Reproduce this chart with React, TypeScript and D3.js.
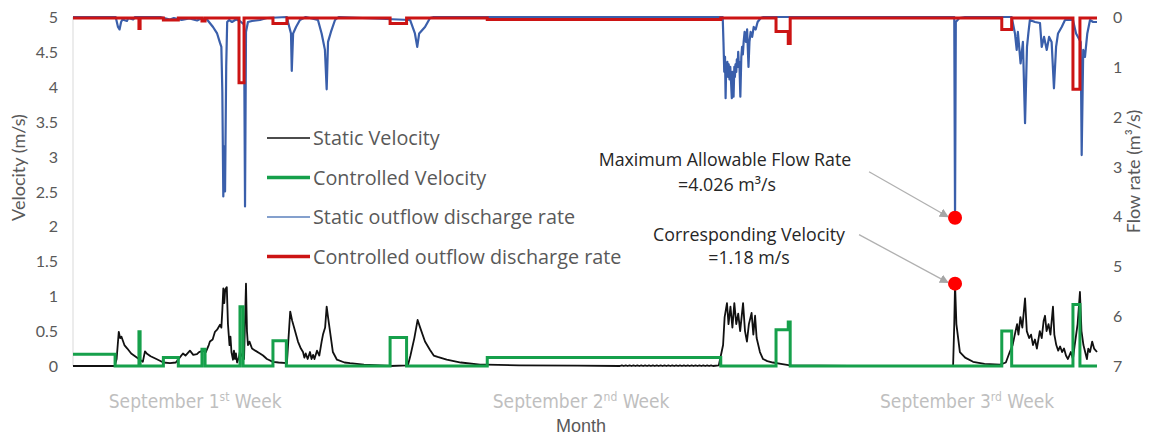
import React from "react";
import * as d3 from "d3";

// ---- data (time in hours from start, 22 days shown) ----
const staticVelocity: [number, number][] = [
  [0, 0], [21.5, 0], [22.5, 0.1], [23.6, 0.49], [24.3, 0.4], [25, 0.42], [26.5, 0.3], [28, 0.25], [30, 0.18], [32, 0.14],
  [34.5, 0.09], [36, 0.06], [37.1, 0.21], [38, 0.18], [40, 0.14], [43, 0.1], [46.6, 0.05], [50, 0.04], [53, 0.05],
  [55, 0.12], [56.7, 0.18], [58, 0.15], [60.3, 0.22], [62, 0.16], [63.9, 0.17], [65, 0.2], [67, 0.22], [68.5, 0.2],
  [70, 0.3], [70.6, 0.35], [72, 0.38], [73.2, 0.49], [74.3, 0.52], [75.8, 0.59], [76.5, 0.55], [77, 0.8], [77.5, 1.11],
  [78, 0.9], [78.5, 1.1], [79.3, 1.13], [79.9, 0.6], [80.3, 0.45], [80.7, 0.3], [81.2, 0.42], [81.7, 0.2], [82.5, 0.09],
  [83, 0.22], [83.5, 0.1], [84, 0.18], [84.6, 0.05], [85.5, 0.12], [86, 0.2], [87, 0.15], [88.2, 0.1], [89.2, 1.18],
  [89.7, 0.5], [90.2, 0.3], [91, 0.35], [92.3, 0.25], [94, 0.22], [96.4, 0.18], [98, 0.15], [100, 0.1], [103.1, 0.06],
  [106, 0.05], [110.3, 0.04], [112, 0.78], [113, 0.65], [114.5, 0.5], [116, 0.35], [117.5, 0.25], [118.6, 0.2],
  [119.3, 0.12], [120, 0.18], [121, 0.1], [122.2, 0.2], [123, 0.1], [123.8, 0.16], [124.5, 0.1], [125.8, 0.22],
  [127, 0.15], [128.2, 0.35], [128.9, 0.45], [130, 0.55], [130.8, 0.85], [131.5, 0.7], [132.5, 0.5], [134, 0.2],
  [136.1, 0.09], [140, 0.05], [142.8, 0.04], [150, 0.02], [163.5, 0], [172.7, 0.01], [174, 0.15], [176, 0.4],
  [177.7, 0.66], [179, 0.55], [181.5, 0.35], [184.1, 0.23], [186, 0.15], [188, 0.13], [192.7, 0.09], [200, 0.05],
  [209.9, 0.02], [213, 0.02], [230, 0.01], [260, 0.005], [282, 0.0], [283, 0.01], [284, 0.0], [285, 0.01], [286, 0.0],
  [287, 0.01], [288, 0.0], [289, 0.01], [290, 0.0], [291, 0.01], [292, 0.0], [293, 0.01], [294, 0.0], [295, 0.01],
  [296, 0.0], [297, 0.01], [298, 0.0], [299, 0.01], [300, 0.0], [301, 0.01], [302, 0.0], [303, 0.01], [304, 0.0],
  [305, 0.01], [306, 0.0], [307, 0.01], [308, 0.0], [309, 0.01], [310, 0.0], [311, 0.01], [312, 0.0], [313, 0.01],
  [314, 0.0], [315, 0.01], [316, 0.0], [317, 0.01], [318, 0.0], [319, 0.01], [320, 0.0], [321, 0.01], [322, 0.0],
  [323, 0.01], [324, 0.0], [325, 0.01], [326, 0.0], [327, 0.01], [328, 0.0], [329, 0.01], [330, 0.0], [333, 0.01],
  [335.2, 0.3], [336, 0.7], [337.2, 0.9], [338, 0.6], [339, 0.85], [340, 0.55], [341, 0.9], [342, 0.6], [343, 0.75],
  [344, 0.5], [345.5, 0.9], [346.5, 0.5], [347.5, 0.35], [348.5, 0.6], [349.9, 0.76], [350.8, 0.45], [351.7, 0.72],
  [352.5, 0.4], [354.2, 0.2], [355.8, 0.1], [358, 0.07], [360.9, 0.05], [365, 0.03], [369.7, 0.01], [400, 0],
  [453.8, 0], [454.4, 0.6], [454.8, 1.18], [455.5, 0.6], [457.3, 0.2], [460, 0.12], [464.1, 0.06], [470, 0.03],
  [478, 0.02], [481, 0.05], [483, 0.2], [484.5, 0.3], [486, 0.5], [486.8, 0.6], [487.5, 0.45], [488.5, 0.7],
  [489.5, 0.55], [490.9, 0.97], [491.8, 0.5], [493, 0.4], [494, 0.45], [495, 0.3], [496, 0.38], [497, 0.25],
  [498.5, 0.5], [499.5, 0.4], [500.5, 0.65], [501.2, 0.72], [502, 0.5], [503, 0.6], [504, 0.45], [505.3, 0.85],
  [506, 0.45], [507, 0.3], [508, 0.22], [509, 0.28], [510, 0.2], [511, 0.25], [512, 0.15], [513, 0.1], [514.5, 0.2],
  [515.6, 0.1], [516.5, 0.3], [518, 0.6], [519.2, 1.06], [520, 0.5], [521, 0.3], [522.8, 0.1], [523.5, 0.25],
  [524.4, 0.2], [525.5, 0.35], [526.5, 0.25], [528, 0.2],
];

const controlledVelocity: [number, number][] = [
  [0, 0.17], [21.7, 0], [34, 0.49], [34.6, 0], [46.6, 0.12], [54.3, 0], [66.5, 0.24], [68.1, 0], [86.1, 0.85],
  [87.7, 0], [103.1, 0.36], [110, 0], [163.5, 0.41], [172, 0], [213.6, 0.12], [334, 0], [362.5, 0.52], [368.8, 0.63],
  [369.8, 0], [478.9, 0.5], [484, 0], [515.6, 0.88], [519.2, 0], [528, 0],
];

const staticOutflow: [number, number][] = [
  [0, 0], [22, 0], [23.2, 0.2], [24, 0.25], [24.8, 0.1], [25.5, 0.05], [27.8, 0.08], [28.5, 0.02], [31, 0.05],
  [32, 0], [45, 0], [50, 0.05], [52, 0.02], [56, 0.06], [60, 0.03], [64, 0.07], [66, 0.03], [69.1, 0.05], [72.2, 0.2],
  [74.3, 0.33], [75.8, 0.52], [76.5, 0.6], [77, 1.5], [77.5, 3.6], [78, 2.6], [78.4, 3.5], [79, 1.0], [79.5, 0.1],
  [80.5, 0.06], [82, 0.1], [84, 0.05], [86, 0.08], [88.2, 0.15], [88.7, 3.8], [89.2, 0.3], [90.2, 0.1], [92.3, 0.08],
  [96.4, 0.06], [100, 0.02], [110.3, 0], [111, 0.12], [112.4, 0.33], [112.8, 1.08], [113.5, 0.33], [115, 0.2],
  [117, 0.06], [120, 0], [126.3, 0.06], [128.2, 0.33], [129.9, 0.66], [130.8, 1.45], [131.5, 0.5], [133, 0.3],
  [135.1, 0.06], [137, 0], [173.8, 0.06], [176.3, 0.33], [177.5, 0.6], [178.5, 0.33], [181.5, 0.2], [184.1, 0.02],
  [186, 0], [335, 0], [335.4, 0.5], [335.8, 1.1], [336.2, 0.8], [336.5, 1.63], [336.8, 1.0], [337.1, 1.2], [337.4, 0.9],
  [337.8, 1.2], [338.1, 0.95], [338.5, 1.25], [338.9, 1.0], [339.3, 1.3], [339.7, 1.63], [340, 1.1], [340.3, 1.3],
  [340.6, 1.6], [341, 1.0], [341.3, 1.2], [341.6, 0.95], [342, 1.1], [342.3, 0.85], [342.7, 1.0], [343, 0.7],
  [343.3, 0.95], [343.6, 0.9], [344.1, 1.6], [344.6, 0.8], [345, 0.6], [345.4, 0.75], [345.8, 0.5], [346.3, 0.3],
  [347, 0.5], [347.6, 0.25], [348.3, 1.0], [348.8, 0.5], [349.4, 0.3], [350.2, 0.4], [351, 0.2], [352, 0.25],
  [353, 0.1], [354.6, 0.02], [356, 0], [454.4, 0], [454.8, 4.026],
  [455.2, 0.1], [457, 0.02], [460, 0], [484, 0], [485.7, 0.33], [486.6, 0.66], [487.2, 0.3], [488.6, 0.93],
  [489.8, 0.5], [490.9, 2.13], [491.9, 0.6], [492.6, 0.33], [493.4, 0.06], [496, 0.1], [498.6, 0.12], [499.5, 0.6],
  [500.7, 0.4], [502.1, 0.66], [503.3, 0.4], [504.6, 0.5], [505.8, 1.43], [506.9, 0.6], [507.9, 0.33], [509.8, 0.2],
  [511.5, 0.06], [515.6, 0.06], [517.2, 0.33], [519.6, 0.5], [520.1, 2.77], [520.9, 0.66], [521.8, 0.8],
  [523, 0.33], [524.4, 0.06], [526, 0.1], [528, 0.1],
];

const controlledOutflow: [number, number][] = [
  [0, 0.02], [34, 0.23], [34.6, 0.02], [46.6, 0.06], [54.3, 0.02], [66.5, 0.08], [68.1, 0.02], [85.6, 1.32],
  [88.2, 0.02], [103.1, 0.13], [110.3, 0.02], [163.5, 0.13], [172, 0.02], [213.6, 0.05], [334, 0.02], [362.5, 0.29],
  [368.8, 0.53], [369.8, 0.02], [478.9, 0.25], [484, 0.02], [515.6, 1.45], [519.2, 0.02], [528, 0.02],
];

const velocityTicks = [0, 0.5, 1, 1.5, 2, 2.5, 3, 3.5, 4, 4.5, 5];
const flowTicks = [0, 1, 2, 3, 4, 5, 6, 7];
const weekLabels = [
  { h: 63, main: "September 1", sup: "st" },
  { h: 262, main: "September 2", sup: "nd" },
  { h: 461, main: "September 3", sup: "rd" },
];
const maxPoint = { h: 454.8, flow: 4.026, velocity: 1.18 };

const legendItems = [
  { label: "Static Velocity", color: "#111111", width: 1.5 },
  { label: "Controlled Velocity", color: "#16a04b", width: 3.5 },
  { label: "Static outflow discharge rate", color: "#5b80bd", width: 1.5 },
  { label: "Controlled outflow discharge rate", color: "#cc1414", width: 3.5 },
];

export default function App() {
  const W = 1151, H = 437;
  const left = 73, right = 1097, top = 17, bottom = 366;
  const x = d3.scaleLinear().domain([0, 528]).range([left, right]);
  const yV = d3.scaleLinear().domain([0, 5]).range([bottom, top]);
  const yF = d3.scaleLinear().domain([0, 7]).range([top, bottom]);

  const lineV = d3.line<[number, number]>().x((d) => x(d[0])).y((d) => yV(d[1]));
  const stepV = d3.line<[number, number]>().x((d) => x(d[0])).y((d) => yV(d[1])).curve(d3.curveStepAfter);
  const lineF = d3.line<[number, number]>().x((d) => x(d[0])).y((d) => yF(d[1]));
  const stepF = d3.line<[number, number]>().x((d) => x(d[0])).y((d) => yF(d[1])).curve(d3.curveStepAfter);

  const font = "Lato, 'Open Sans', sans-serif";
  const wideFont = "'Open Sans', Lato, sans-serif";
  const tickColor = "#595959";

  const px = x(maxPoint.h);
  const pyF = yF(maxPoint.flow);
  const pyV = yV(maxPoint.velocity);

  return (
    <div style={{ position: "absolute", left: 0, top: 0 }}>
      <svg width={W} height={H} style={{ display: "block", background: "#fff" }}>
        <defs>
          <marker id="arr" viewBox="0 0 10 10" refX="9" refY="5" markerWidth="7" markerHeight="7" orient="auto">
            <path d="M0,0 L10,5 L0,10 z" fill="#a6a6a6" />
          </marker>
        </defs>
        <line x1={left} x2={left} y1={top} y2={bottom} stroke="#d9d9d9" strokeWidth={1} />

        {/* left ticks */}
        {velocityTicks.map((t) => (
          <text key={"v" + t} x={58} y={yV(t) + 6} textAnchor="end" fontFamily={font} fontSize={16} fill={tickColor}>
            {t}
          </text>
        ))}
        {/* right ticks */}
        {flowTicks.map((t) => (
          <text key={"f" + t} x={1113} y={yF(t) + 6} textAnchor="start" fontFamily={font} fontSize={16} fill={tickColor}>
            {t}
          </text>
        ))}
        <text transform={`translate(25,${(top + bottom) / 2 - 24}) rotate(-90)`} textAnchor="middle" fontFamily={font} fontSize={18} fill={tickColor}>
          Velocity (m/s)
        </text>
        <text transform={`translate(1140,${(top + bottom) / 2 - 20}) rotate(-90)`} textAnchor="middle" fontFamily={font} fontSize={18} fill={tickColor}>
          Flow rate (m³/s)
        </text>

        {/* week labels */}
        {weekLabels.map((w) => (
          <text key={w.main} x={x(w.h)} y={408} textAnchor="middle" fontFamily="'Liberation Sans Narrow', 'DejaVu Sans Condensed', sans-serif" fontSize={19} fill="#bfbfbf">
            {w.main}
            <tspan fontSize={12} dy={-7}>{w.sup}</tspan>
            <tspan dy={7}> Week</tspan>
          </text>
        ))}
        <text x={x(262)} y={432} textAnchor="middle" fontFamily="'Liberation Sans Narrow', sans-serif" fontSize={18} fill="#595959">
          Month
        </text>

        {/* series */}
        <path d={lineV(staticVelocity) || ""} fill="none" stroke="#111111" strokeWidth={1.8} strokeLinejoin="round" />
        <path d={stepV(controlledVelocity) || ""} fill="none" stroke="#16a04b" strokeWidth={3} />
        <path d={lineF(staticOutflow) || ""} fill="none" stroke="#3a5fab" strokeWidth={2.2} strokeLinejoin="round" />
        <path d={stepF(controlledOutflow) || ""} fill="none" stroke="#cc1414" strokeWidth={3} />

        {/* legend */}
        {legendItems.map((it, i) => (
          <g key={it.label} transform={`translate(267,${138 + i * 39.5})`}>
            <line x1={0} x2={43} y1={0} y2={0} stroke={it.color} strokeWidth={it.width} />
            <text x={46} y={7} fontFamily={wideFont} fontSize={19.8} fill="#595959">
              {it.label}
            </text>
          </g>
        ))}

        {/* annotations */}
        <text x={725} y={166} textAnchor="middle" fontFamily={wideFont} fontSize={17.8} fill="#262626">
          Maximum Allowable Flow Rate
        </text>
        <text x={727} y={191} textAnchor="middle" fontFamily={wideFont} fontSize={17.8} fill="#262626">
          =4.026 m³/s
        </text>
        <text x={749} y={241} textAnchor="middle" fontFamily={wideFont} fontSize={17.8} fill="#262626">
          Corresponding Velocity
        </text>
        <text x={749} y={264} textAnchor="middle" fontFamily={wideFont} fontSize={17.8} fill="#262626">
          =1.18 m/s
        </text>
        <line x1={px - 86} y1={pyF - 46} x2={px - 7} y2={pyF - 1} stroke="#b0b0b0" strokeWidth={1.3} markerEnd="url(#arr)" />
        <line x1={px - 96} y1={pyV - 49} x2={px - 7} y2={pyV - 1} stroke="#b0b0b0" strokeWidth={1.3} markerEnd="url(#arr)" />
        <circle cx={px} cy={pyF} r={7} fill="#ff0000" />
        <circle cx={px} cy={pyV} r={7} fill="#ff0000" />
      </svg>
    </div>
  );
}
